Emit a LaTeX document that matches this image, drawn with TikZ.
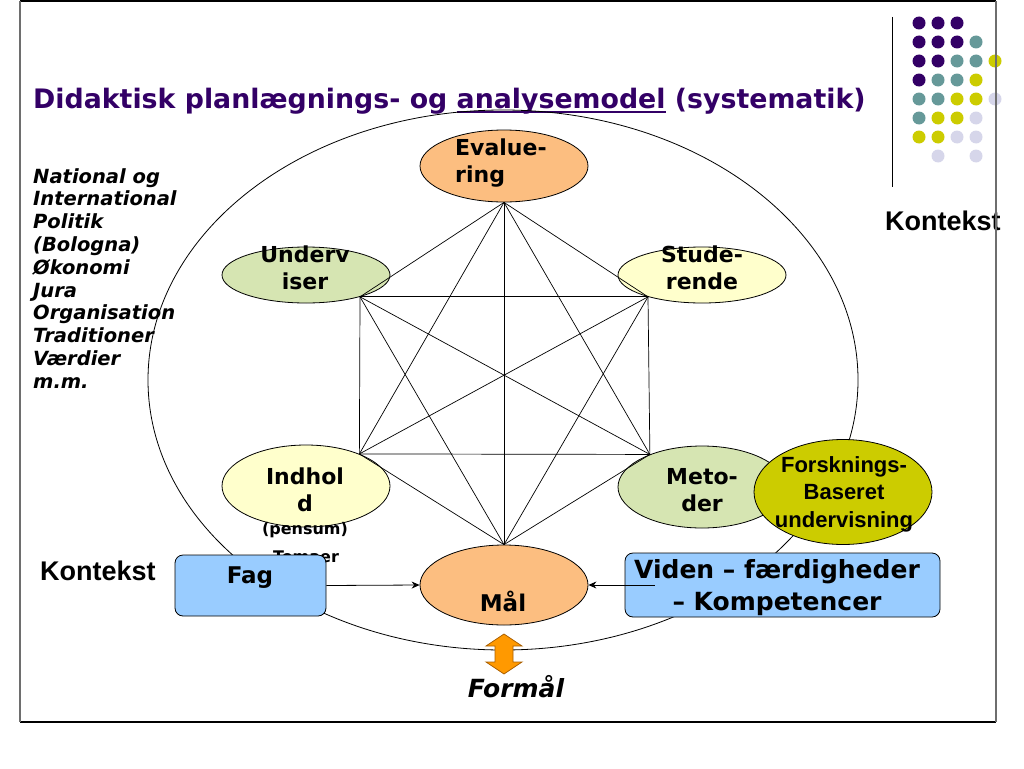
\documentclass[tikz,border=0pt]{standalone}
\usepackage{fontspec}
\setmainfont{DejaVu Sans}[
    BoldFont={DejaVu Sans Bold},
    ItalicFont={DejaVu Sans Oblique},
    BoldItalicFont={DejaVu Sans Bold Oblique}]
\newfontfamily\arialfont{Liberation Sans}
\usetikzlibrary{
    arrows.meta,
    shapes.geometric
}
\definecolor{ink}{RGB}{0,0,0}
\definecolor{titlepurple}{RGB}{51,0,102}
\definecolor{orangenode}{RGB}{252,190,128}
\definecolor{greennode}{RGB}{214,229,178}
\definecolor{yellownode}{RGB}{255,255,204}
\definecolor{olivenode}{RGB}{204,204,0}
\definecolor{bluebox}{RGB}{153,204,255}
\definecolor{arrowfill}{RGB}{255,153,0}
\definecolor{arrowedge}{RGB}{170,95,0}
\definecolor{dotpurple}{RGB}{51,0,102}
\definecolor{dotteal}{RGB}{102,153,153}
\definecolor{dotyellow}{RGB}{204,204,0}
\definecolor{dotlilac}{RGB}{214,214,234}
\definecolor{framegray}{RGB}{110,110,110}
\newcommand{\ulword}[1]{\setbox0\hbox{#1}\rlap{\rule[-5pt]{\wd0}{1.8pt}}#1}
\tikzset{
    line cap=round,
    line join=round,
    bubble/.style={
        ellipse,
        draw=ink,
        line width=0.8pt,
        minimum width=168pt,
        minimum height=56pt,
        inner sep=0pt
    },
    bubbletext/.style={
        font=\bfseries\fontsize{22}{27}\selectfont,
        align=center,
        text=ink,
        inner sep=0pt
    },
    smalltext/.style={
        font=\bfseries\fontsize{16}{19}\selectfont,
        text=ink,
        inner sep=0pt
    },
    goalbox/.style={
        rectangle,
        draw=ink,
        rounded corners=8pt,
        fill=bluebox,
        line width=0.8pt,
        inner sep=0pt
    },
    context/.style={
        font=\arialfont\bfseries\fontsize{27}{30}\selectfont,
        text=ink,
        inner sep=0pt
    },
    listtext/.style={
        font=\bfseries\itshape\fontsize{19.5}{23}\selectfont,
        text=ink,
        inner sep=0pt
    },
    edgeline/.style={
        draw=ink,
        line width=0.7pt
    },
    goalarrow/.style={
        -{Stealth[length=8pt,width=7pt]},
        draw=ink,
        line width=0.8pt
    },
    frameline/.style={
        draw=framegray,
        line width=1.6pt
    }
}

\begin{document}
\begin{tikzpicture}[x=1pt, y=-1pt]
\path[use as bounding box] (0,0) rectangle (1024,768);

% Title
\node[anchor=base west, inner sep=0pt, text=titlepurple,
      font=\bfseries\fontsize{26.8}{30}\selectfont] (title) at (33,108)
    {Didaktisk planlægnings- og \ulword{analysemodel} (systematik)};

% Logo dots and rule
\draw[ink, line width=0.8pt] (892,17) -- (892,187);
\foreach \cols [count=\r from 0] in {
    {dotpurple,dotpurple,dotpurple,none,none},
    {dotpurple,dotpurple,dotpurple,dotteal,none},
    {dotpurple,dotpurple,dotteal,dotteal,dotyellow},
    {dotpurple,dotteal,dotteal,dotyellow,none},
    {dotteal,dotteal,dotyellow,dotyellow,dotlilac},
    {dotteal,dotyellow,dotyellow,dotlilac,none},
    {dotyellow,dotyellow,dotlilac,dotlilac,none},
    {none,dotlilac,none,dotlilac,none}}{
    \foreach \col [count=\c from 0] in \cols
        \path[fill=\col] (919+19*\c, 23+19*\r) circle[radius=6.5pt];
}

% Outer context ellipse
\draw[ink, line width=0.8pt] (503,380) ellipse [x radius=355pt, y radius=270pt];

% Left context list
\foreach \word [count=\n from 0] in {National og, International, Politik,
    {(Bologna)}, Økonomi, Jura, Organisation, Traditioner, Værdier, m.m.}
    \node[listtext, anchor=base west] (list\n) at (33,183+22.8*\n) {\word};

% Didactic elements
\node[bubble, fill=orangenode, minimum height=72pt] (eva) at (504,166) {};
\node[bubble, fill=greennode] (und) at (306,275) {};
\node[bubble, fill=yellownode] (stu) at (702,275) {};
\node[bubble, fill=yellownode, minimum height=82pt] (ind) at (306,486) {};
\node[bubble, fill=greennode, minimum height=82pt] (met) at (702,487) {};
\node[bubble, fill=orangenode, minimum height=80pt] (maal) at (504,585) {};

% Corners of the star
\coordinate (vE) at (eva.south);
\coordinate (vU) at (und.-22.5);
\coordinate (vS) at (stu.202.5);
\coordinate (vM) at (met.148);
\coordinate (vG) at (maal.north);
\coordinate (vI) at (ind.31);
\foreach \p [count=\i] in {vE,vU,vS,vM,vG,vI}{
    \foreach \q [count=\j] in {vE,vU,vS,vM,vG,vI}{
        \ifnum\j>\i \draw[edgeline] (\p) -- (\q); \fi
    }
}

\node[bubbletext, align=left, anchor=west] (evatext) at (455,163) {Evalue-\\ring};
\node[bubbletext] (undtext) at (305,268) {Underv\\iser};
\node[bubbletext] (stutext) at (702,268) {Stude-\\rende};
\node[bubbletext] (indtext) at (305,490) {Indhol\\d};
\node[bubbletext] (mettext) at (702,490) {Meto-\\der};
\node[smalltext] (pensum) at (305,530) {(pensum)};
\node[smalltext, anchor=base] (temaer) at (306,562) {Temaer};

% Research based teaching
\node[bubble, fill=olivenode, minimum width=178pt, minimum height=105pt] (fbu) at (843,492) {};
\node[bubbletext, font=\arialfont\bfseries\fontsize{22}{27.5}\selectfont] (fbutext) at (844,494)
    {Forsknings-\\Baseret\\undervisning};

% Goal boxes
\node[goalbox, minimum width=151pt, minimum height=61pt] (fag) at (250.5,585.5) {};
\node[bubbletext, font=\bfseries\fontsize{23}{27}\selectfont, anchor=base] (fagtext) at (250,583) {Fag};
\node[goalbox, minimum width=315pt, minimum height=64pt] (viden) at (782.5,585) {};
\node[bubbletext, font=\bfseries\fontsize{25}{32}\selectfont] (videntext) at (777,588)
    {Viden – færdigheder\\– Kompetencer};
\node[bubbletext, font=\bfseries\fontsize{23}{27}\selectfont, anchor=base] (maaltext) at (503,611) {Mål};

\draw[goalarrow] (fag.east) -- (maal.west);
\draw[goalarrow] ([xshift=30pt]viden.west) -- (maal.east);

% Purpose arrow
\draw[draw=arrowedge, fill=arrowfill, line width=0.8pt]
    (504,634) -- (522,646) -- (513,646) -- (513,662) -- (522,662) -- (504,674)
    -- (486,662) -- (495,662) -- (495,646) -- (486,646) -- cycle;
\node[bubbletext, font=\bfseries\itshape\fontsize{25}{30}\selectfont, anchor=base] (formaal) at (516,697) {Formål};

% Context labels
\node[context, anchor=base west] (kontekstL) at (40,580) {Kontekst};
\node[context, anchor=base west] (kontekstR) at (885,230) {Kontekst};

% Slide frame
\draw[ink, line width=1.2pt] (20,1) -- (996,1);
\draw[ink, line width=1.6pt] (20,722) -- (996,722);
\draw[frameline] (20,1) -- (20,722);
\draw[frameline] (996,1) -- (996,722);

\end{tikzpicture}
\end{document}
